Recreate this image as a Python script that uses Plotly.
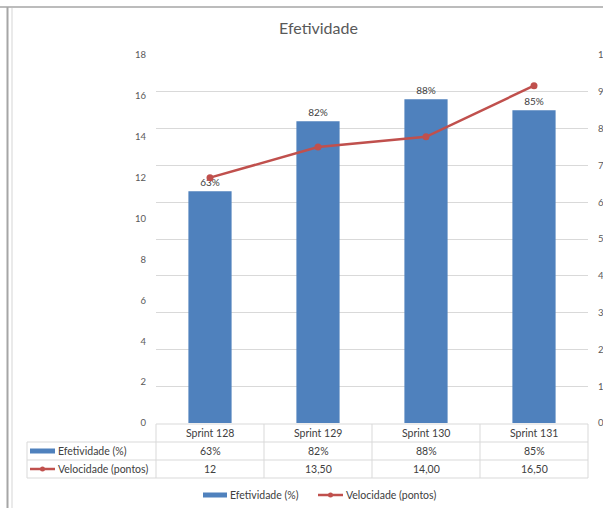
import plotly.graph_objects as go

categories = ["Sprint 128", "Sprint 129", "Sprint 130", "Sprint 131"]
efetividade = [0.63, 0.82, 0.88, 0.85]
efetividade_labels = ["63%", "82%", "88%", "85%"]
velocidade = [12, 13.5, 14, 16.5]
velocidade_labels = ["12", "13,50", "14,00", "16,50"]
serie_names = ["Efetividade (%)", "Velocidade (pontos)"]
title = "Efetividade"

W, H = 603, 508
L, R, T, B = 156, 15, 55, 85
PW, PH = W - L - R, H - T - B

BLUE = "#4f81bd"
RED = "#c0504d"
GRID = "#d9d9d9"
TXT = "#595959"
FONT = "Lato, Carlito, Liberation Sans, sans-serif"
SMALL = 10.5


def xp(px):
    return (px - L) / PW


def yp(py):
    return (H - B - py) / PH


fig = go.Figure()
fig.add_trace(go.Bar(
    x=categories, y=efetividade, name=serie_names[0],
    marker=dict(color=BLUE, line=dict(width=0)), width=0.4,
    text=efetividade_labels, textposition="outside",
    textfont=dict(size=10, color="#404040", family=FONT),
    cliponaxis=False, yaxis="y",
))
fig.add_trace(go.Scatter(
    x=categories, y=velocidade, name=serie_names[1], mode="lines+markers",
    line=dict(color=RED, width=2.5), marker=dict(color=RED, size=7),
    yaxis="y2",
))

shapes = []
annotations = []

# frame lines of the spreadsheet
shapes.append(dict(type="line", xref="paper", yref="paper", x0=xp(0), x1=xp(W), y0=yp(7), y1=yp(7),
                   line=dict(color="#a6a6a6", width=1.5)))
shapes.append(dict(type="line", xref="paper", yref="paper", x0=xp(7.5), x1=xp(7.5), y0=yp(7), y1=yp(H),
                   line=dict(color="#a6a6a6", width=2)))
shapes.append(dict(type="line", xref="paper", yref="paper", x0=xp(12), x1=xp(12), y0=yp(8), y1=yp(H),
                   line=dict(color="#e3e3e3", width=1.5)))

# data table
n = len(categories)
row_y = [424, 442, 460, 478]
tab_left = 27
lc = dict(color=GRID, width=1)
shapes.append(dict(type="line", xref="paper", yref="paper", x0=0, x1=1, y0=yp(row_y[0]), y1=yp(row_y[0]), line=lc))
for ry in row_y[1:]:
    shapes.append(dict(type="line", xref="paper", yref="paper", x0=xp(tab_left), x1=1, y0=yp(ry), y1=yp(ry), line=lc))
shapes.append(dict(type="line", xref="paper", yref="paper", x0=xp(tab_left), x1=xp(tab_left),
                   y0=yp(row_y[1]), y1=yp(row_y[3]), line=lc))
for k in range(n + 1):
    shapes.append(dict(type="line", xref="paper", yref="paper", x0=k / n, x1=k / n,
                       y0=yp(row_y[0]), y1=yp(row_y[3]), line=lc))

rows = [categories, efetividade_labels, velocidade_labels]
for r, vals in enumerate(rows):
    yc = yp((row_y[r] + row_y[r + 1]) / 2)
    for k, v in enumerate(vals):
        annotations.append(dict(xref="paper", yref="paper", x=(k + 0.5) / n, y=yc, text=v,
                                showarrow=False, font=dict(size=SMALL, color="#404040", family=FONT),
                                xanchor="center", yanchor="middle"))

# row keys in the table
for r, name in enumerate(serie_names):
    yc_px = (row_y[r + 1] + row_y[r + 2]) / 2
    if r == 0:
        shapes.append(dict(type="rect", xref="paper", yref="paper", x0=xp(30), x1=xp(55),
                           y0=yp(yc_px - 2.5), y1=yp(yc_px + 2.5), fillcolor=BLUE, line=dict(width=0)))
    else:
        shapes.append(dict(type="line", xref="paper", yref="paper", x0=xp(30), x1=xp(55),
                           y0=yp(yc_px), y1=yp(yc_px), line=dict(color=RED, width=2.5)))
        shapes.append(dict(type="circle", xref="paper", yref="paper", x0=xp(40), x1=xp(45),
                           y0=yp(yc_px - 2.5), y1=yp(yc_px + 2.5), fillcolor=RED, line=dict(width=0)))
    annotations.append(dict(xref="paper", yref="paper", x=xp(56), y=yp(yc_px), text=name,
                            showarrow=False, font=dict(size=SMALL, color="#404040", family=FONT),
                            xanchor="left", yanchor="middle"))

# bottom legend
ly = 495
shapes.append(dict(type="rect", xref="paper", yref="paper", x0=xp(203), x1=xp(227),
                   y0=yp(ly - 2.5), y1=yp(ly + 2.5), fillcolor=BLUE, line=dict(width=0)))
annotations.append(dict(xref="paper", yref="paper", x=xp(228), y=yp(ly), text=serie_names[0],
                        showarrow=False, font=dict(size=SMALL, color="#404040", family=FONT),
                        xanchor="left", yanchor="middle"))
shapes.append(dict(type="line", xref="paper", yref="paper", x0=xp(318), x1=xp(343),
                   y0=yp(ly), y1=yp(ly), line=dict(color=RED, width=2.5)))
shapes.append(dict(type="circle", xref="paper", yref="paper", x0=xp(328), x1=xp(333),
                   y0=yp(ly - 2.5), y1=yp(ly + 2.5), fillcolor=RED, line=dict(width=0)))
annotations.append(dict(xref="paper", yref="paper", x=xp(344), y=yp(ly), text=serie_names[1],
                        showarrow=False, font=dict(size=SMALL, color="#404040", family=FONT),
                        xanchor="left", yanchor="middle"))

# title
annotations.append(dict(xref="paper", yref="paper", x=xp(318), y=yp(27), text=title,
                        showarrow=False, font=dict(size=16, color=TXT, family=FONT),
                        xanchor="center", yanchor="middle"))

fig.update_layout(
    width=W, height=H,
    margin=dict(l=L, r=R, t=T, b=B, autoexpand=False),
    paper_bgcolor="white", plot_bgcolor="white",
    showlegend=False,
    font=dict(family=FONT, size=9.5, color=TXT),
    xaxis=dict(type="category", range=[-0.5, n - 0.5], showticklabels=False, showgrid=False,
               zeroline=False, showline=False, ticks="", automargin=False),
    yaxis=dict(side="right", range=[0, 1], dtick=0.1, tickformat=".0%", showgrid=True,
               gridcolor=GRID, gridwidth=1, zeroline=False, showline=False, ticks="",
               tickfont=dict(size=9.5, color=TXT), ticklabelstandoff=9, automargin=False),
    yaxis2=dict(side="left", overlaying="y", range=[0, 18], dtick=2, showgrid=False,
                zeroline=False, showline=False, ticks="",
                tickfont=dict(size=9.5, color=TXT), ticklabelstandoff=9, automargin=False),
    shapes=shapes,
    annotations=annotations,
    bargap=0.6,
)

fig.write_html("out.html")
